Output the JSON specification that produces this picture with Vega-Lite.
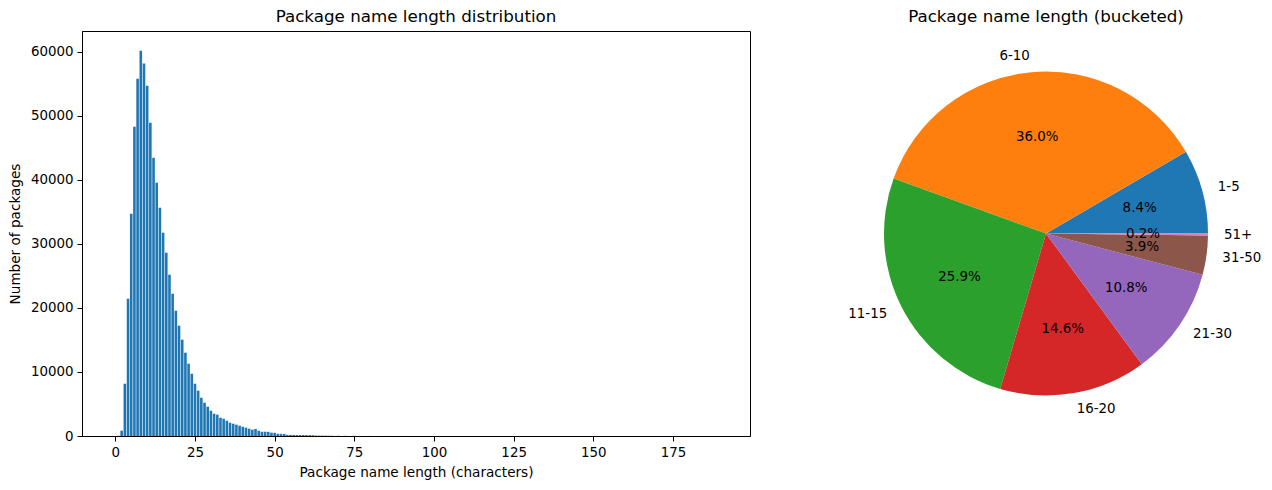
{
  "$schema": "https://vega.github.io/schema/vega-lite/v6.json",
  "padding": {"left": 7, "top": 8, "right": 5, "bottom": 5},
  "background": "white",
  "config": {
    "font": "DejaVu Sans",
    "axis": {"grid": false, "domainColor": "black", "tickColor": "black", "labelColor": "black", "titleColor": "black", "labelFontSize": 13.4, "titleFontSize": 13.6, "titleFontWeight": "normal", "tickSize": 5, "labelPadding": 4, "labelFont": "DejaVu Sans", "titleFont": "DejaVu Sans"},
    "title": {"fontSize": 16.7, "fontWeight": "normal", "font": "DejaVu Sans", "color": "black", "offset": 5},
    "view": {"stroke": "black"}
  },
  "spacing": 75,
  "datasets": {
    "lengths": [
      {"length": 1, "count": 30},
      {"length": 2, "count": 830},
      {"length": 3, "count": 8170},
      {"length": 4, "count": 21450},
      {"length": 5, "count": 34730},
      {"length": 6, "count": 48330},
      {"length": 7, "count": 55830},
      {"length": 8, "count": 60200},
      {"length": 9, "count": 58220},
      {"length": 10, "count": 54730},
      {"length": 11, "count": 48950},
      {"length": 12, "count": 43480},
      {"length": 13, "count": 39580},
      {"length": 14, "count": 35670},
      {"length": 15, "count": 31770},
      {"length": 16, "count": 28640},
      {"length": 17, "count": 25200},
      {"length": 18, "count": 22230},
      {"length": 19, "count": 19580},
      {"length": 20, "count": 17230},
      {"length": 21, "count": 15050},
      {"length": 22, "count": 13020},
      {"length": 23, "count": 11300},
      {"length": 24, "count": 9730},
      {"length": 25, "count": 8170},
      {"length": 26, "count": 7080},
      {"length": 27, "count": 5980},
      {"length": 28, "count": 5200},
      {"length": 29, "count": 4580},
      {"length": 30, "count": 3950},
      {"length": 31, "count": 3480},
      {"length": 32, "count": 3330},
      {"length": 33, "count": 2860},
      {"length": 34, "count": 2700},
      {"length": 35, "count": 2390},
      {"length": 36, "count": 2080},
      {"length": 37, "count": 1920},
      {"length": 38, "count": 1770},
      {"length": 39, "count": 1610},
      {"length": 40, "count": 1450},
      {"length": 41, "count": 1300},
      {"length": 42, "count": 1140},
      {"length": 43, "count": 980},
      {"length": 44, "count": 1100},
      {"length": 45, "count": 830},
      {"length": 46, "count": 670},
      {"length": 47, "count": 670},
      {"length": 48, "count": 650},
      {"length": 49, "count": 520},
      {"length": 50, "count": 500},
      {"length": 51, "count": 340},
      {"length": 52, "count": 330},
      {"length": 53, "count": 320},
      {"length": 54, "count": 180},
      {"length": 55, "count": 170},
      {"length": 56, "count": 170},
      {"length": 57, "count": 160},
      {"length": 58, "count": 150},
      {"length": 59, "count": 150},
      {"length": 60, "count": 140},
      {"length": 61, "count": 130},
      {"length": 62, "count": 120},
      {"length": 63, "count": 70},
      {"length": 64, "count": 60},
      {"length": 65, "count": 55},
      {"length": 66, "count": 50},
      {"length": 67, "count": 45},
      {"length": 68, "count": 40},
      {"length": 70, "count": 35},
      {"length": 72, "count": 28},
      {"length": 75, "count": 20},
      {"length": 80, "count": 12},
      {"length": 85, "count": 8},
      {"length": 90, "count": 6},
      {"length": 100, "count": 4},
      {"length": 110, "count": 3},
      {"length": 120, "count": 2},
      {"length": 135, "count": 1},
      {"length": 150, "count": 1},
      {"length": 188, "count": 1}
    ],
    "buckets": [
      {"bucket": "1-5", "share": 0.084, "idx": 1},
      {"bucket": "6-10", "share": 0.360, "idx": 2},
      {"bucket": "11-15", "share": 0.259, "idx": 3},
      {"bucket": "16-20", "share": 0.146, "idx": 4},
      {"bucket": "21-30", "share": 0.108, "idx": 5},
      {"bucket": "31-50", "share": 0.039, "idx": 6},
      {"bucket": "51+", "share": 0.002, "idx": 7}
    ]
  },
  "hconcat": [
    {
      "width": 668,
      "height": 405,
      "title": "Package name length distribution",
      "data": {"name": "lengths"},
      "mark": {"type": "bar", "size": 2.6, "color": "#1f77b4"},
      "encoding": {
        "x": {"field": "length", "type": "quantitative", "scale": {"domain": [-8.88, 197.6], "nice": false, "zero": false},
              "axis": {"values": [0, 25, 50, 75, 100, 125, 150, 175], "title": "Package name length (characters)", "titlePadding": 7}},
        "y": {"field": "count", "type": "quantitative", "scale": {"domain": [0, 63281], "nice": false},
              "axis": {"values": [0, 10000, 20000, 30000, 40000, 50000, 60000], "format": "d", "title": "Number of packages", "titlePadding": 8}}
      }
    },
    {
      "width": 440,
      "height": 405,
      "title": "Package name length (bucketed)",
      "view": {"stroke": null},
      "data": {"name": "buckets"},
      "encoding": {
        "theta": {"field": "share", "type": "quantitative", "stack": true, "scale": {"range": [1.5707963, -4.712389]}},
        "order": {"field": "idx", "type": "quantitative"},
        "color": {"field": "bucket", "type": "nominal", "legend": null,
                  "scale": {"domain": ["1-5", "6-10", "11-15", "16-20", "21-30", "31-50", "51+"],
                            "range": ["#1f77b4", "#ff7f0e", "#2ca02c", "#d62728", "#9467bd", "#8c564b", "#e377c2"]}}
      },
      "layer": [
        {"mark": {"type": "arc", "outerRadius": 162}},
        {"mark": {"type": "text", "radius": 178, "fontSize": 13.4, "color": "black", "baseline": "middle",
                  "align": {"expr": "datum.idx == 2 || datum.idx == 3 ? 'right' : 'left'"}},
         "encoding": {"text": {"field": "bucket"}, "color": {"value": "black"}}},
        {"mark": {"type": "text", "radius": 97, "fontSize": 13.4, "color": "black", "baseline": "middle", "align": "center"},
         "encoding": {"text": {"field": "share", "format": ".1%"}, "color": {"value": "black"}}}
      ]
    }
  ]
}
